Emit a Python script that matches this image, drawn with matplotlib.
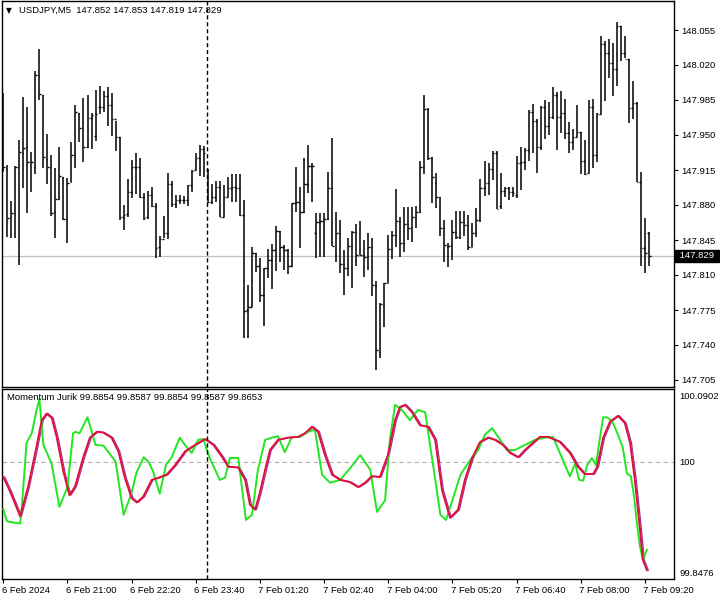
import numpy as np
import matplotlib
matplotlib.use("Agg")
import matplotlib.pyplot as plt
import matplotlib.transforms as mtransforms

plt.rcParams['font.family'] = ['Liberation Sans', 'DejaVu Sans']

# USDJPY M5 bars (open, high, low, close)
opens = [147.916, 147.916, 147.868, 147.872, 147.918, 147.932, 147.938, 147.923, 147.918, 148.010,
         147.990, 147.926, 147.918, 147.873, 147.886, 147.908, 147.866, 147.903, 147.930, 147.972,
         147.957, 147.938, 147.967, 147.949, 147.978, 147.978, 147.989, 147.980, 147.966, 147.948,
         147.868, 147.871, 147.893, 147.918, 147.918, 147.888, 147.868, 147.890, 147.879, 147.838,
         147.846, 147.852, 147.901, 147.881, 147.885, 147.885, 147.885, 147.900, 147.915, 147.927,
         147.936, 147.915, 147.883, 147.888, 147.898, 147.868, 147.888, 147.897, 147.898, 147.897,
         147.870, 147.775, 147.778, 147.832, 147.819, 147.790, 147.817, 147.825, 147.835, 147.854,
         147.838, 147.835, 147.819, 147.882, 147.883, 147.873, 147.901, 147.919, 147.852, 147.863,
         147.864, 147.866, 147.897, 147.830, 147.852, 147.821, 147.817, 147.839, 147.853, 147.830,
         147.830, 147.828, 147.838, 147.800, 147.733, 147.780, 147.802, 147.836, 147.850, 147.864,
         147.842, 147.861, 147.857, 147.868, 147.873, 147.918, 147.976, 147.927, 147.902, 147.888,
         147.857, 147.839, 147.840, 147.853, 147.848, 147.863, 147.860, 147.838, 147.852, 147.865,
         147.897, 147.902, 147.916, 147.932, 147.879, 147.894, 147.897, 147.893, 147.890, 147.922,
         147.923, 147.935, 147.973, 147.964, 147.938, 147.978, 147.959, 147.968, 147.990, 147.968,
         147.972, 147.952, 147.943, 147.948, 147.953, 147.924, 147.912, 147.978, 147.930, 147.971,
         148.041, 148.032, 148.022, 148.016, 148.059, 148.032, 148.026, 147.977, 147.982, 147.903,
         147.837, 147.852]
highs = [147.992, 147.920, 147.884, 147.919, 147.945, 147.988, 147.978, 147.933, 148.014, 148.036,
         147.990, 147.951, 147.930, 147.917, 147.938, 147.908, 147.907, 147.943, 147.980, 147.972,
         147.987, 147.990, 147.972, 147.995, 147.999, 147.994, 147.998, 147.992, 147.964, 147.948,
         147.880, 147.906, 147.925, 147.932, 147.927, 147.892, 147.894, 147.898, 147.882, 147.849,
         147.869, 147.912, 147.904, 147.890, 147.890, 147.889, 147.900, 147.915, 147.932, 147.940,
         147.939, 147.916, 147.901, 147.904, 147.904, 147.900, 147.908, 147.911, 147.911, 147.911,
         147.885, 147.800, 147.838, 147.832, 147.827, 147.817, 147.836, 147.841, 147.859, 147.854,
         147.840, 147.836, 147.882, 147.918, 147.898, 147.927, 147.940, 147.922, 147.872, 147.872,
         147.872, 147.913, 147.947, 147.873, 147.865, 147.835, 147.847, 147.854, 147.861, 147.864,
         147.845, 147.852, 147.847, 147.804, 147.782, 147.802, 147.850, 147.854, 147.896, 147.868,
         147.878, 147.878, 147.878, 147.879, 147.924, 147.990, 147.977, 147.928, 147.912, 147.888,
         147.865, 147.842, 147.865, 147.874, 147.874, 147.874, 147.870, 147.862, 147.877, 147.906,
         147.924, 147.922, 147.934, 147.934, 147.912, 147.898, 147.898, 147.898, 147.929, 147.938,
         147.937, 147.975, 147.981, 147.966, 147.979, 147.985, 147.983, 147.998, 147.993, 147.994,
         147.986, 147.963, 147.956, 147.980, 147.953, 147.945, 147.985, 147.986, 147.972, 148.049,
         148.044, 148.046, 148.042, 148.063, 148.059, 148.049, 148.026, 148.004, 147.983, 147.913,
         147.867, 147.853]
lows = [147.913, 147.848, 147.847, 147.847, 147.820, 147.897, 147.872, 147.893, 147.911, 147.985,
        147.917, 147.901, 147.869, 147.847, 147.885, 147.865, 147.842, 147.903, 147.917, 147.943,
        147.923, 147.937, 147.936, 147.944, 147.971, 147.973, 147.959, 147.949, 147.934, 147.865,
        147.855, 147.868, 147.887, 147.891, 147.887, 147.865, 147.866, 147.878, 147.827, 147.828,
        147.847, 147.846, 147.878, 147.877, 147.881, 147.881, 147.879, 147.893, 147.915, 147.909,
        147.908, 147.882, 147.881, 147.883, 147.868, 147.868, 147.888, 147.883, 147.883, 147.869,
        147.747, 147.747, 147.778, 147.813, 147.783, 147.759, 147.807, 147.796, 147.814, 147.823,
        147.815, 147.811, 147.818, 147.873, 147.837, 147.872, 147.892, 147.883, 147.827, 147.828,
        147.828, 147.865, 147.839, 147.823, 147.812, 147.790, 147.809, 147.797, 147.819, 147.830,
        147.808, 147.815, 147.789, 147.715, 147.727, 147.758, 147.802, 147.826, 147.838, 147.828,
        147.833, 147.845, 147.843, 147.857, 147.872, 147.911, 147.925, 147.882, 147.877, 147.849,
        147.823, 147.818, 147.825, 147.846, 147.846, 147.849, 147.835, 147.838, 147.848, 147.863,
        147.889, 147.890, 147.905, 147.876, 147.876, 147.888, 147.885, 147.888, 147.887, 147.895,
        147.915, 147.924, 147.932, 147.912, 147.935, 147.946, 147.950, 147.966, 147.935, 147.952,
        147.946, 147.932, 147.935, 147.948, 147.911, 147.910, 147.912, 147.917, 147.923, 147.971,
        147.984, 148.007, 147.989, 147.999, 148.024, 148.027, 147.962, 147.966, 147.903, 147.819,
        147.812, 147.819]
closes = [147.918, 147.867, 147.872, 147.918, 147.933, 147.937, 147.923, 147.923, 148.010, 147.991,
          147.928, 147.918, 147.872, 147.886, 147.909, 147.866, 147.902, 147.930, 147.973, 147.957,
          147.938, 147.967, 147.970, 147.971, 147.978, 147.989, 147.980, 147.966, 147.948, 147.868,
          147.870, 147.893, 147.918, 147.918, 147.888, 147.867, 147.890, 147.879, 147.837, 147.846,
          147.852, 147.901, 147.881, 147.885, 147.885, 147.885, 147.900, 147.914, 147.927, 147.936,
          147.932, 147.883, 147.888, 147.898, 147.868, 147.888, 147.897, 147.898, 147.897, 147.870,
          147.774, 147.778, 147.832, 147.819, 147.790, 147.817, 147.825, 147.835, 147.854, 147.838,
          147.835, 147.819, 147.882, 147.883, 147.873, 147.901, 147.919, 147.919, 147.863, 147.864,
          147.866, 147.897, 147.839, 147.852, 147.821, 147.817, 147.839, 147.853, 147.830, 147.830,
          147.828, 147.838, 147.800, 147.735, 147.781, 147.802, 147.836, 147.850, 147.864, 147.842,
          147.861, 147.857, 147.868, 147.873, 147.918, 147.976, 147.927, 147.908, 147.888, 147.857,
          147.840, 147.839, 147.853, 147.848, 147.863, 147.860, 147.838, 147.852, 147.865, 147.897,
          147.902, 147.916, 147.932, 147.876, 147.894, 147.897, 147.893, 147.892, 147.922, 147.923,
          147.935, 147.973, 147.964, 147.938, 147.978, 147.959, 147.968, 147.990, 147.968, 147.972,
          147.952, 147.943, 147.948, 147.953, 147.924, 147.911, 147.978, 147.930, 147.971, 148.041,
          148.032, 148.022, 148.016, 148.059, 148.032, 148.026, 147.977, 147.982, 147.903, 147.837,
          147.832, 147.829]

# Momentum (green) vertices: bar position, value
mom_bar = [0, 0.9, 4.2, 4.6, 5.8, 7.1, 8.3, 9.0, 10, 12, 14, 16, 17.4, 18, 19, 21, 23, 25, 28, 30,
           32, 33.2, 35, 36.2, 37.4, 39, 40.6, 42, 44, 45.3, 47, 48.6, 49.9, 51.4, 54, 55.3, 56.5, 58.6,
           60.5, 62, 63.5, 65.3, 67, 68.5, 70.2, 72, 74, 76, 77.7, 79.5, 81.5, 84, 86.5, 89, 91.5, 93.2,
           95.2, 96.4, 97.7, 99.4, 101.4, 103.4, 105.2, 107, 109, 110.4, 112, 114, 116.4, 118.4, 120.1,
           121.9, 123.9, 125.6, 127.6, 130.1, 132.6, 135.1, 137.1,
           138.8, 140.1, 141.3, 142.6, 143.6, 144.6, 145.6, 146.8, 147.8, 148.6, 149.6, 150.5, 151.8,
           153.3, 154.5, 155.5, 156.5, 157.3, 158.0, 158.8, 159.5, 160.0, 160.5]
mom_val = [99.935, 99.918, 99.915, 99.936, 100.026, 100.039, 100.071, 100.086, 100.023, 99.998,
           99.938, 99.965, 100.039, 100.041, 100.039, 100.061, 100.023, 100.022, 100.000, 99.927,
           99.957, 99.985, 100.006, 100.000, 99.986, 99.956, 99.996, 100.006, 100.033, 100.023,
           100.012, 100.030, 100.031, 100.006, 99.975, 99.978, 100.005, 100.005,
           99.920, 99.927, 99.989, 100.030, 100.033, 100.035, 100.013, 100.034, 100.034, 100.041,
           100.044, 99.982, 99.971, 99.975, 99.991, 100.009, 99.989, 99.931,
           99.947, 100.030, 100.078, 100.071, 100.057, 100.071, 100.068, 100.002, 99.927, 99.920,
           99.947, 99.982, 100.002, 100.016, 100.037, 100.046, 100.030, 100.016, 100.016, 100.023,
           100.030, 100.033, 100.034,
           100.012, 99.995, 99.980, 99.997, 99.975, 99.974, 99.995, 100.005, 99.995, 100.026,
           100.061, 100.061, 100.056, 100.037, 100.019, 99.984, 99.980, 99.952, 99.916, 99.883,
           99.865, 99.872, 99.879]

# Jurik smoothed momentum (red)
jur_bar = [0, 1.7, 4.2, 6.2, 8.3, 9.6, 10.8, 12.1, 13.3, 15.0, 16.5, 17.9, 20.0, 21.6, 23.3, 24.9,
           27.0, 28.7, 30.3, 32.0, 33.3, 34.9, 37.0, 38.7, 40.7, 42.8, 45.3, 47.8, 50.3, 52.4, 54.5,
           56.1, 58.6, 60.3, 61.5, 62.8, 64.0, 65.3, 66.5, 68.5, 71.0, 73.5, 75.2, 77.0, 78.5, 80.2,
           82.0, 84.0, 86.4, 88.5, 90.2, 91.9, 93.9, 95.9, 97.7, 98.9, 100.2, 101.9, 103.9, 105.9,
           107.7, 109.4, 111.4, 113.4, 115.1, 116.9, 118.9, 120.9, 122.6, 124.6, 126.4, 128.4, 130.1,
           132.1, 133.8, 135.8, 137.6, 138.8, 141.3, 143.3, 145.0, 147.1, 148.1, 149.6, 151.3, 153.3,
           155.0, 156.3, 157.5, 158.8, 159.5, 160.5]
jur_val = [99.979, 99.959, 99.925, 99.966, 100.021, 100.057, 100.066, 100.060, 100.034, 99.986,
           99.954, 99.966, 100.007, 100.033, 100.041, 100.040, 100.033, 100.014, 99.978, 99.950,
           99.944, 99.952, 99.975, 99.978, 99.982, 99.995, 100.014, 100.023, 100.031, 100.023,
           100.007, 99.993, 99.992, 99.975, 99.941, 99.934, 99.958, 99.989, 100.016, 100.030,
           100.033, 100.034, 100.039, 100.048, 100.041, 100.009, 99.982, 99.975, 99.972, 99.965,
           99.971, 99.980, 99.979, 100.009, 100.057, 100.075, 100.078, 100.068, 100.050, 100.048,
           100.030, 99.961, 99.923, 99.934, 99.975, 100.005, 100.027, 100.033, 100.030, 100.023,
           100.012, 100.006, 100.016, 100.026, 100.034, 100.034, 100.030, 100.027, 100.012, 99.993,
           99.983, 99.983, 99.993, 100.033, 100.055, 100.063, 100.053, 100.026, 99.975, 99.906,
           99.865, 99.851]

time_labels = ["6 Feb 2024", "6 Feb 21:00", "6 Feb 22:20", "6 Feb 23:40", "7 Feb 01:20",
               "7 Feb 02:40", "7 Feb 04:00", "7 Feb 05:20", "7 Feb 06:40", "7 Feb 08:00",
               "7 Feb 09:20"]
time_label_bars = list(range(0, 161, 16))
price_ticks = [147.705, 147.740, 147.775, 147.810, 147.845, 147.880, 147.915, 147.950,
               147.985, 148.020, 148.055]
mom_ticks = [99.8476, 100.0, 100.0902]
mom_tick_labels = ["99.8476", "100", "100.0902"]
last_price = 147.829
cursor_bar = 50.9

W, H = 720, 600
BAR_PX = 4.01
X0 = 3.3


def box(l, t, r, b):
    return [l / W, 1 - b / H, (r - l) / W, (b - t) / H]


fig = plt.figure(figsize=(7.2, 6), dpi=100)
fig.patch.set_facecolor('white')
ax = fig.add_axes(box(2, 1, 674, 386.5))
ax2 = fig.add_axes(box(2, 389, 674, 579))

xl = ((2 - X0) / BAR_PX, (674 - X0) / BAR_PX)
for a in (ax, ax2):
    a.set_xlim(*xl)
    for s in a.spines.values():
        s.set_color('black')
        s.set_linewidth(1.0)
    a.yaxis.tick_right()
    a.tick_params(axis='y', direction='out', length=3, width=0.8, pad=2,
                  labelsize=6.8, colors='black')

# price bars
idx = np.arange(len(closes))
ax.vlines(idx, lows, highs, color='black', lw=1.1)
ax.hlines(opens, idx - 0.4, idx, color='black', lw=1.0)
ax.hlines(closes, idx, idx + 0.4, color='black', lw=1.0)
ax.set_ylim(147.6985, 148.084)
ax.set_yticks(price_ticks)
ax.set_yticklabels(["%.3f" % p for p in price_ticks])
ax.set_xticks([])
ax.axhline(last_price, color='#c0c0c0', lw=0.9, zorder=0)
ax.axvline(cursor_bar, color='black', lw=1.0, ls=(0, (3, 2)))
ax.text(1.005, last_price, " %.3f " % last_price,
        transform=mtransforms.blended_transform_factory(ax.transAxes, ax.transData),
        ha='left', va='center', fontsize=6.8, color='white', clip_on=False,
        bbox=dict(boxstyle='square,pad=0.2', fc='black', ec='black'))
ax.text(0.006, 0.976, "\u25bc", transform=ax.transAxes, fontsize=5.5, va='center', ha='left',
        family=['DejaVu Sans'])
ax.text(0.025, 0.976, "USDJPY,M5  147.852 147.853 147.819 147.829", transform=ax.transAxes,
        fontsize=6.8, va='center', ha='left')

# momentum panel
ax2.axhline(100.0, color='#b4b4b4', lw=0.8, ls=(0, (4, 3)), zorder=0)
ax2.plot(np.array(jur_bar) + 0.35, jur_val, color='#a0309a', lw=0.9, zorder=2)
ax2.plot(mom_bar, mom_val, color='#22e622', lw=1.4, zorder=3)
ax2.plot(jur_bar, jur_val, color='#e0103a', lw=1.4, zorder=4)
ax2.axvline(cursor_bar, color='black', lw=1.0, ls=(0, (3, 2)), zorder=5)
ax2.set_ylim(99.8389, 100.0998)
ax2.set_yticks(mom_ticks)
ax2.set_yticklabels(mom_tick_labels)
ax2.tick_params(axis='y', length=0, pad=4)
ax2.set_xticks(time_label_bars)
ax2.set_xticklabels(time_labels)
ax2.tick_params(axis='x', direction='out', length=3, width=0.8, pad=2, labelsize=6.8)
offset = mtransforms.ScaledTranslation(-1.5 / 100, 0, fig.dpi_scale_trans)
for lab in ax2.get_xticklabels():
    lab.set_ha('left')
    lab.set_transform(lab.get_transform() + offset)
ax2.text(0.008, 0.955, "Momentum Jurik 99.8854 99.8587 99.8854 99.8587 99.8653",
         transform=ax2.transAxes, fontsize=6.8, va='center', ha='left')

plt.savefig("out.png", dpi=100, facecolor='white')
